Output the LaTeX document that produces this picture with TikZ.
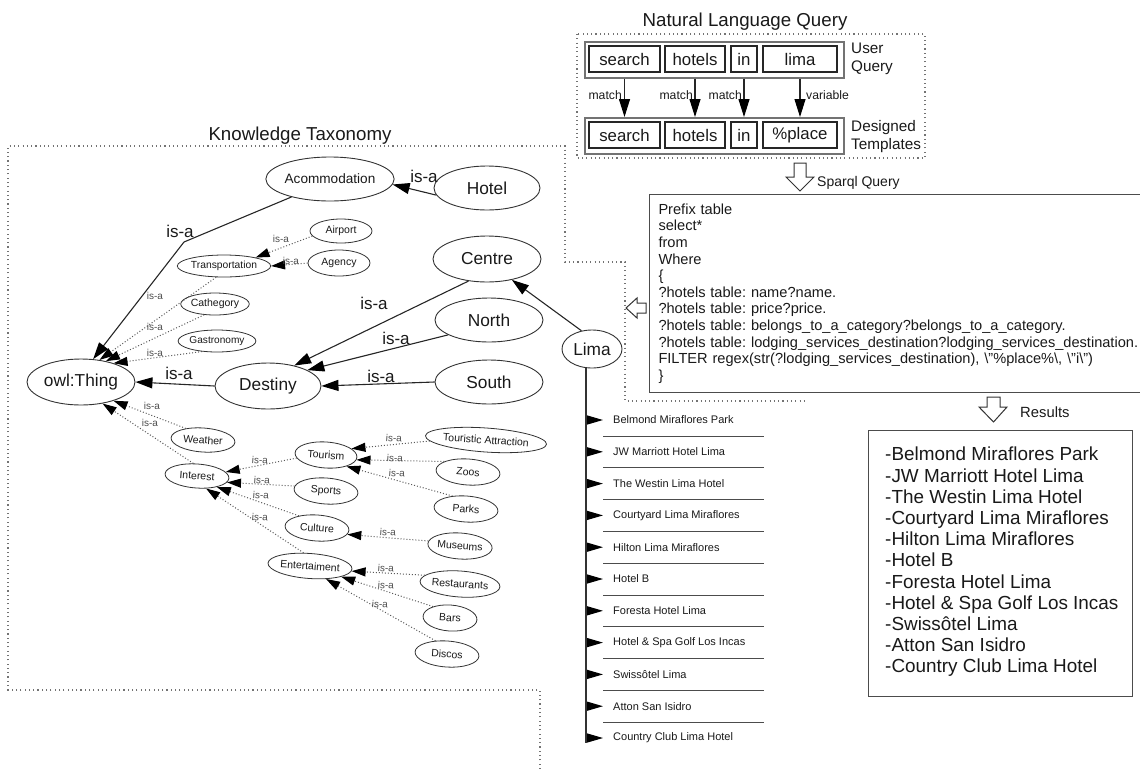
\documentclass[tikz,border=0pt]{standalone}
\usepackage{fontspec}
\setmainfont{Liberation Sans}
\usetikzlibrary{shapes.geometric,arrows.meta}
\begin{document}
\frenchspacing
\begin{tikzpicture}[x=1pt,y=-1pt,
  every node/.style={text=black!90},
  bigell/.style={ellipse, draw=black!80, line width=0.9pt, inner sep=0pt, font=\fontsize{17.3}{20}\selectfont},
  smell/.style={ellipse, draw=black!80, line width=0.8pt, inner sep=0pt, font=\fontsize{10.5}{12}\selectfont},
  tilt/.style={rotate=-4},
  solidisa/.style={draw=black!85, line width=1.1pt, -{Triangle[length=17pt,width=11pt,color=black]}},
  dotisa/.style={draw=black!65, line width=1pt, dash pattern=on 1pt off 2pt, -{Triangle[length=14pt,width=9pt,color=black]}},
  bigisa/.style={font=\fontsize{17}{20}\selectfont, inner sep=0pt},
  smisa/.style={font=\fontsize{10}{12}\selectfont, text=black!70, inner sep=0pt},
  region/.style={draw=black!55, line width=1.1pt, dash pattern=on 1.1pt off 3.2pt},
  wbox/.style={draw=black!85, line width=1.1pt, inner sep=0pt, minimum height=26pt, font=\fontsize{16.8}{19}\selectfont},
  gbox/.style={draw=black!55, line width=1.6pt, inner sep=0pt},
  nlqarrow/.style={draw=black!85, line width=1.1pt, -{Triangle[length=18pt,width=11pt,color=black]}},
  smalltxt/.style={font=\fontsize{12.2}{14}\selectfont, inner sep=0pt},
  hollow/.style={draw=black!80, line width=1pt, fill=white},
  item/.style={anchor=west, inner xsep=10pt, inner ysep=0pt, font=\fontsize{11}{13}\selectfont},
  listarrow/.style={draw=black!80, line width=1.2pt, -{Triangle[length=16pt,width=9pt,color=black]}},
  sepline/.style={draw=black!70, line width=1pt},
  titlefont/.style={font=\fontsize{18.7}{21}\selectfont}
]
\useasboundingbox (0,0) rectangle (1140,769);

% ---------- Natural Language Query ----------
\node (nlqtitle) [titlefont] at (745,22) {Natural Language Query};
\draw[region] (577,34) rectangle (925,158);
\node (uq) [gbox, anchor=north west, minimum width=259pt, minimum height=36pt] at (584,41) {};
\node (tq) [gbox, anchor=north west, minimum width=259pt, minimum height=36pt] at (584,117) {};
\node (u1) [wbox, minimum width=71pt] at (624.5,59) {search};
\node (u2) [wbox, minimum width=60pt] at (695,59) {hotels};
\node (u3) [wbox, minimum width=26pt] at (744,59) {in};
\node (u4) [wbox, minimum width=74pt] at (800,59) {lima};
\node (t1) [wbox, minimum width=71pt] at (624.5,135) {search};
\node (t2) [wbox, minimum width=60pt] at (695,135) {hotels};
\node (t3) [wbox, minimum width=26pt] at (744,135) {in};
\node (t4) [wbox, minimum width=74pt] at (800,135) {\%place};
\node (uqlab) [anchor=west, align=left, inner sep=0pt, font=\fontsize{15.3}{18}\selectfont] at (851,59) {User\\Query};
\node (tqlab) [anchor=west, align=left, inner sep=0pt, font=\fontsize{15.3}{18}\selectfont] at (851,137) {Designed\\Templates};
\draw[nlqarrow] (u1.south |- uq.south) -- (t1.north |- tq.north);
\draw[nlqarrow] (u2.south |- uq.south) -- (t2.north |- tq.north);
\draw[nlqarrow] (u3.south |- uq.south) -- (t3.north |- tq.north);
\draw[nlqarrow] (u4.south |- uq.south) -- (t4.north |- tq.north);
\node (m1) [smalltxt, anchor=east] at (622,95) {match};
\node (m2) [smalltxt, anchor=east] at (693,95) {match};
\node (m3) [smalltxt, anchor=east] at (742,95) {match};
\node (m4) [smalltxt, anchor=west] at (806,95) {variable};

% Sparql query arrow
\draw[hollow] (794,163) -- (806,163) -- (806,177) -- (814,177) -- (800,191) -- (786,177) -- (794,177) -- cycle;
\node (sqlab) [anchor=west, inner sep=0pt, font=\fontsize{14}{16}\selectfont] at (817,183) {Sparql Query};

% Sparql box
\node (sparql) [draw=black!70, line width=1pt, anchor=north west, minimum height=198pt, text width=500pt, inner xsep=9pt, inner ysep=0pt, align=left, font=\fontsize{14.6}{16.6}\selectfont] at (649,194) {Prefix table\\select*\\from\\Where\\\{\\?hotels table: name?name.\\?hotels table: price?price.\\?hotels table: belongs\_to\_a\_category?belongs\_to\_a\_category.\\?hotels table: lodging\_services\_destination?lodging\_services\_destination.\\FILTER regex(str(?lodging\_services\_destination), \textbackslash"\%place\%\textbackslash, \textbackslash"i\textbackslash")\\\}};

% left hollow arrow
\draw[hollow] (646,303) -- (637,303) -- (637,298) -- (626,308) -- (637,318) -- (637,313) -- (646,313) -- cycle;

% Results arrow and box
\draw[hollow] (987,397) -- (1000,397) -- (1000,407) -- (1007,407) -- (993.5,422) -- (979,407) -- (987,407) -- cycle;
\node (reslab) [anchor=west, inner sep=0pt, font=\fontsize{14.8}{17}\selectfont] at (1020,412) {Results};
\node (res) [draw=black!70, line width=1pt, anchor=north west, minimum width=264pt, minimum height=266pt] at (868,430) {};
\node (restxt) [anchor=north west, align=left, inner sep=0pt, font=\fontsize{18.9}{21.2}\selectfont] at (885,447) {-Belmond Miraflores Park\\-JW Marriott Hotel Lima\\-The Westin Lima Hotel\\-Courtyard Lima Miraflores\\-Hilton Lima Miraflores\\-Hotel B\\-Foresta Hotel Lima\\-Hotel \& Spa Golf Los Incas\\-Swissôtel Lima\\-Atton San Isidro\\-Country Club Lima Hotel};

% ---------- Knowledge Taxonomy ----------
\node (kttitle) [titlefont] at (300,136) {Knowledge Taxonomy};
\draw[region] (540,769) -- (540,690) -- (8,690) -- (8,146) -- (565,146) -- (565,262) -- (625,262) -- (625,401) -- (805,401);

\node (Hotel) [bigell, minimum width=106pt, minimum height=44pt] at (487,188) {Hotel};
\node (Acom) [bigell, minimum width=106pt, minimum height=44pt, font=\fontsize{13.6}{16}\selectfont] at (330,179) {Acommodation};
\node (Airport) [smell, minimum width=62pt, minimum height=24pt] at (341,231) {Airport};
\node (Agency) [smell, minimum width=62pt, minimum height=26pt] at (339,263) {Agency};
\node (Transp) [smell, minimum width=84pt, minimum height=22pt, font=\fontsize{10.3}{12}\selectfont] at (224,266) {Transportation};
\node (Cath) [smell, minimum width=64pt, minimum height=22pt] at (215,304) {Cathegory};
\node (Gastro) [smell, minimum width=62pt, minimum height=22pt, font=\fontsize{10.1}{12}\selectfont] at (217,341) {Gastronomy};
\node (owl) [bigell, minimum width=108pt, minimum height=46pt] at (81,382) {owl:Thing};
\node (Destiny) [bigell, minimum width=106pt, minimum height=46pt] at (268,386) {Destiny};
\node (Centre) [bigell, minimum width=108pt, minimum height=46pt] at (487,259) {Centre};
\node (North) [bigell, minimum width=108pt, minimum height=44pt] at (489,320) {North};
\node (South) [bigell, minimum width=108pt, minimum height=44pt] at (489,382) {South};
\node (Lima) [bigell, minimum width=60pt, minimum height=38pt] at (592,349) {Lima};
\node (Weather) [smell, tilt, minimum width=64pt, minimum height=24pt] at (203,440) {Weather};
\node (Interest) [smell, tilt, minimum width=64pt, minimum height=24pt] at (197,476) {Interest};
\node (Tourism) [smell, tilt, minimum width=62pt, minimum height=26pt] at (326,455) {Tourism};
\node (TA) [smell, tilt, minimum width=102pt, minimum height=24pt] at (486,440) {Touristic Attraction};
\node (Zoos) [smell, tilt, minimum width=64pt, minimum height=26pt] at (468,472) {Zoos};
\node (Parks) [smell, tilt, minimum width=64pt, minimum height=26pt] at (466,509) {Parks};
\node (Sports) [smell, tilt, minimum width=64pt, minimum height=26pt] at (326,491) {Sports};
\node (Culture) [smell, tilt, minimum width=64pt, minimum height=26pt] at (317,528) {Culture};
\node (Museums) [smell, tilt, minimum width=64pt, minimum height=26pt] at (460,546) {Museums};
\node (Ent) [smell, tilt, minimum width=82pt, minimum height=25pt] at (310,566) {Entertaiment};
\node (Rest) [smell, tilt, minimum width=76pt, minimum height=26pt] at (460,584) {Restaurants};
\node (Bars) [smell, tilt, minimum width=54pt, minimum height=26pt] at (450,618) {Bars};
\node (Discos) [smell, tilt, minimum width=64pt, minimum height=26pt] at (447,654) {Discos};

% solid is-a
\coordinate (bend) at (184,242);
\draw[solidisa] (Hotel.188) -- (Acom.-5);
\draw[solidisa] (Acom.205) -- (bend) -- (owl.62);
\draw[solidisa] (Destiny.west) -- (owl.east);
\draw[solidisa] (Centre.230) -- (Destiny.38);
\draw[solidisa] (North.200) -- (Destiny.22);
\draw[solidisa] (South.west) -- (Destiny.east);
\draw[solidisa] (Lima.120) -- (Centre.-40);

\node (lHotel) [bigisa] at (424,176) {is-a};
\node (lAcom) [bigisa] at (180,231) {is-a};
\node (lCentre) [bigisa] at (374,303) {is-a};
\node (lNorth) [bigisa] at (396,338) {is-a};
\node (lSouth) [bigisa] at (381,376) {is-a};
\node (lDest) [bigisa] at (179,373) {is-a};

% dotted is-a
\draw[dotisa] (Airport.190) -- (Transp.15);
\draw[dotisa] (Agency.west) -- (Transp.east);
\draw[dotisa] (Transp.235) -- (owl.50);
\draw[dotisa] (Cath.225) -- (owl.40);
\draw[dotisa] (Gastro.215) -- (owl.30);
\draw[dotisa] (Weather.150) -- (owl.-30);
\draw[dotisa] (Interest.110) -- (owl.-45);
\draw[dotisa] (TA.185) -- (Tourism.18);
\draw[dotisa] (Zoos.160) -- (Tourism.-5);
\draw[dotisa] (Parks.140) -- (Tourism.-25);
\draw[dotisa] (Tourism.190) -- (Interest.12);
\draw[dotisa] (Sports.175) -- (Interest.-8);
\draw[dotisa] (Culture.150) -- (Interest.-25);
\draw[dotisa] (Ent.120) -- (Interest.-50);
\draw[dotisa] (Museums.175) -- (Culture.-8);
\draw[dotisa] (Rest.170) -- (Ent.-3);
\draw[dotisa] (Bars.150) -- (Ent.-15);
\draw[dotisa] (Discos.135) -- (Ent.-35);

\node (s1) [smisa] at (281,239) {is-a};
\node (s2) [smisa] at (291,261) {is-a};
\node (s3) [smisa] at (155,296) {is-a};
\node (s4) [smisa] at (155,327) {is-a};
\node (s5) [smisa] at (155,353) {is-a};
\node (s6) [smisa] at (152,406) {is-a};
\node (s7) [smisa] at (150,423) {is-a};
\node (s8) [smisa, tilt] at (394,438) {is-a};
\node (s9) [smisa, tilt] at (395,458) {is-a};
\node (s10) [smisa, tilt] at (397,473) {is-a};
\node (s11) [smisa, tilt] at (260,460) {is-a};
\node (s12) [smisa, tilt] at (262,480) {is-a};
\node (s13) [smisa, tilt] at (261,495) {is-a};
\node (s14) [smisa, tilt] at (260,517) {is-a};
\node (s15) [smisa, tilt] at (388,532) {is-a};
\node (s16) [smisa, tilt] at (386,568) {is-a};
\node (s17) [smisa, tilt] at (386,585) {is-a};
\node (s18) [smisa, tilt] at (380,604) {is-a};

% ---------- Lima hotel list ----------
\coordinate (trunk) at (586,743);
\draw[draw=black!80, line width=1.2pt] (trunk |- Lima.south) -- (trunk);
\foreach \t [count=\i] in {Belmond Miraflores Park, JW Marriott Hotel Lima, The Westin Lima Hotel, Courtyard Lima Miraflores, Hilton Lima Miraflores, Hotel B, Foresta Hotel Lima, Hotel \& Spa Golf Los Incas, Swissôtel Lima, Atton San Isidro, Country Club Lima Hotel}{
  \node (it\i) [item] at (603,{420+31.8*(\i-1)}) {\t};
  \draw[listarrow] (trunk |- it\i.west) -- (it\i.west);
}
\foreach \i in {1,...,10}{
  \draw[sepline] (603,{436+31.8*(\i-1)}) -- (764,{436+31.8*(\i-1)});
}
\end{tikzpicture}
\end{document}
